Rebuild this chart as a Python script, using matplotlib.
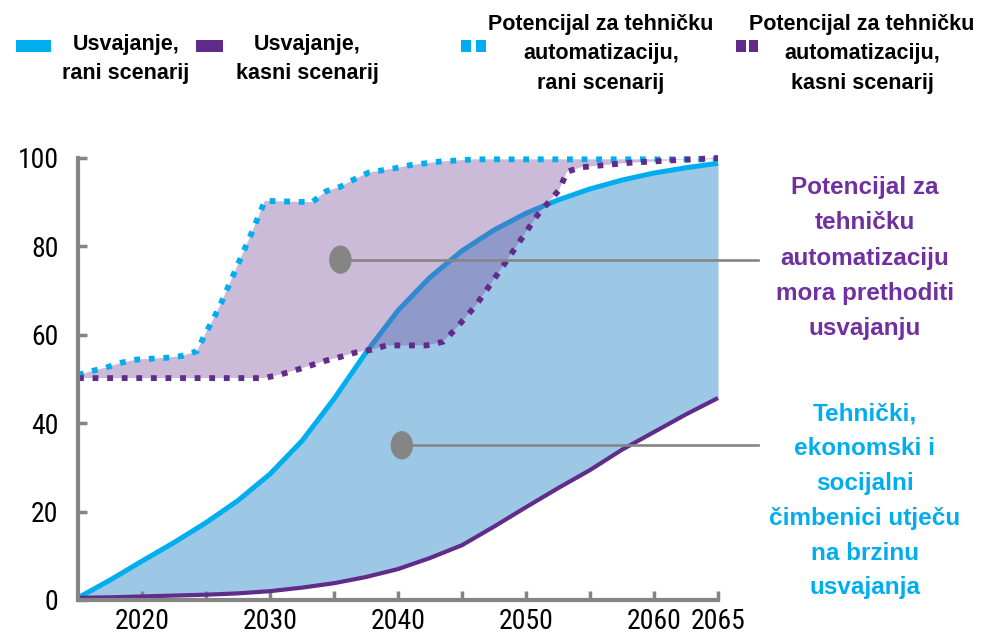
import matplotlib
matplotlib.use('Agg')
import matplotlib.pyplot as plt
from matplotlib.patches import Rectangle, Ellipse
import numpy as np

# adoption curves (share of work activities, %), sampled every 2.5 years
years = [2015, 2017.5, 2020, 2022.5, 2025, 2027.5, 2030, 2032.5, 2035, 2037.5, 2040,
         2042.5, 2045, 2047.5, 2050, 2052.5, 2055, 2057.5, 2060, 2062.5, 2065]
adopt_early = [0.5, 4.5, 8.8, 13, 17.5, 22.5, 28.5, 36, 45.5, 56, 65.5,
               73, 79, 83.7, 87.5, 90.5, 93, 95, 96.6, 97.8, 98.8]
adopt_late = [0.5, 0.6, 0.8, 1.0, 1.2, 1.5, 2.0, 2.8, 3.8, 5.2, 7,
              9.5, 12.4, 16.6, 21, 25.3, 29.4, 34, 38, 42, 45.7]

# technical automation potential
pot_early_years = [2015, 2016.1, 2017.2, 2018.4, 2019.6, 2021.9, 2023.1, 2024.3, 2024.9,
                   2025.6, 2026.2, 2027.4, 2028.5, 2029.6, 2033.3, 2034.4, 2035.5, 2036.6,
                   2037.7, 2039.8, 2041, 2043.3, 2046, 2065]
pot_early = [50.9, 51.8, 52.6, 53.7, 54.4, 54.8, 55.2, 56.3, 60,
             63.7, 67.3, 75.3, 82.6, 90.3, 90, 92.5, 93.5, 95.2,
             96.7, 97.7, 98.4, 99.2, 99.7, 99.7]
pot_late_years = [2015, 2029.5, 2030.8, 2032, 2033.1, 2034.3, 2035.5, 2036.7, 2037.9,
                  2039.1, 2042.2, 2043.5, 2044.4, 2046.1, 2048.5, 2050.9, 2052.6, 2053.2,
                  2054.3, 2058, 2061.6, 2065]
pot_late = [50.2, 50.2, 51, 52, 53, 54.1, 55, 56, 56.6,
            57.6, 57.6, 58.4, 61, 66.7, 76.8, 87.1, 92.8, 96.9,
            97.9, 98.9, 99.5, 100]

xticks = [2020, 2025, 2030, 2035, 2040, 2045, 2050, 2055, 2060, 2065]
xtick_labels = ['2020', '', '2030', '', '2040', '', '2050', '', '2060', '2065']
yticks = [0, 20, 40, 60, 80, 100]

legend_labels = ['Usvajanje,\nrani scenarij', 'Usvajanje,\nkasni scenarij',
                 'Potencijal za tehničku\nautomatizaciju,\nrani scenarij',
                 'Potencijal za tehničku\nautomatizaciju,\nkasni scenarij']
note_potential = 'Potencijal za\ntehničku\nautomatizaciju\nmora prethoditi\nusvajanju'
note_factors = 'Tehnički,\nekonomski i\nsocijalni\nčimbenici utječu\nna brzinu\nusvajanja'

CYAN = '#00AEEF'
PURPLE = '#612B8A'
BLUE_FILL = '#9CC8E6'
LAV = '#7D55A2'
GRAY = '#858585'
TEXT_PURPLE = '#7030A0'

W, H = 981, 638
fig = plt.figure(figsize=(W / 100, H / 100), dpi=100)
ax = fig.add_axes([78 / W, 1 - 600 / H, 640 / W, 442 / H])

# blue band between early and late adoption
ax.fill_between(years, adopt_late, adopt_early, color=BLUE_FILL, lw=0, zorder=1)
ax.plot(years, adopt_early, color=CYAN, lw=3.6, zorder=2, clip_on=False, solid_capstyle='butt')

# lavender band between the two potential curves
poly_x = np.concatenate([pot_early_years, pot_late_years[::-1]])
poly_y = np.concatenate([pot_early, pot_late[::-1]])
ax.fill(poly_x, poly_y, color=LAV, alpha=0.4, lw=0, zorder=3)

ax.plot(years, adopt_late, color=PURPLE, lw=3.0, zorder=4, clip_on=False, solid_capstyle='butt')
ax.plot(pot_early_years, pot_early, color=CYAN, lw=4.2, dashes=(1, 1.5),
        dash_capstyle='butt', zorder=5, clip_on=False)
ax.plot(pot_late_years, pot_late, color=PURPLE, lw=4.2, dashes=(1, 1.5),
        dash_capstyle='butt', zorder=6, clip_on=False)

# callout markers
for (cx, cy) in [(2035.5, 77), (2040.3, 35)]:
    ax.plot([cx, 2068.1], [cy, cy], color=GRAY, lw=1.9, zorder=7, clip_on=False)
    ax.add_patch(Ellipse((cx, cy), 1.75, 6.4, color=GRAY, zorder=8, lw=0))

ax.set_xlim(2015, 2065)
ax.set_ylim(0, 100)
for s in ['top', 'right']:
    ax.spines[s].set_visible(False)
for s in ['left', 'bottom']:
    ax.spines[s].set_color(GRAY)
    ax.spines[s].set_linewidth(3)
    ax.spines[s].set_zorder(9)
ax.set_facecolor('none')

tick_font = dict(family=['Roboto Condensed', 'Open Sans Condensed', 'Liberation Sans'],
                 stretch='condensed', size=20)
ax.set_xticks(xticks)
ax.set_xticklabels(xtick_labels, fontdict=tick_font)
ax.set_yticks(yticks)
ax.set_yticklabels([str(v) for v in yticks], fontdict=tick_font)
ax.tick_params(axis='both', direction='in', color=GRAY, width=2.5, length=6.5)
ax.tick_params(axis='x', pad=6)
ax.tick_params(axis='y', pad=14)

# legend row
def px(x, y):
    return x / W, 1 - y / H

lg_font = dict(family=['Liberation Sans', 'DejaVu Sans'], weight='bold', size=15.5)
swatches = [
    [(16, 35, CYAN)],
    [(196, 27, PURPLE)],
    [(461, 10, CYAN), (476, 10, CYAN)],
    [(736, 9.5, PURPLE), (748.5, 9.5, PURPLE)],
]
for parts in swatches:
    for x0, w, c in parts:
        fig.patches.append(Rectangle(px(x0, 52), w / W, 12 / H, transform=fig.transFigure,
                                     color=c, lw=0))
for (cx, cy), lab in zip([(126, 59), (307, 59), (601, 54), (862, 54)], legend_labels):
    fig.text(*px(cx, cy), lab, ha='center', va='center', linespacing=1.56, **lg_font)

note_font = dict(family=['Liberation Sans', 'DejaVu Sans'], weight='bold', size=17.5)
fig.text(*px(865, 258), note_potential, ha='center', va='center', color=TEXT_PURPLE,
         linespacing=1.67, **note_font)
fig.text(*px(865, 501), note_factors, ha='center', va='center', color=CYAN,
         linespacing=1.65, **note_font)

fig.savefig('out.png', dpi=100)
